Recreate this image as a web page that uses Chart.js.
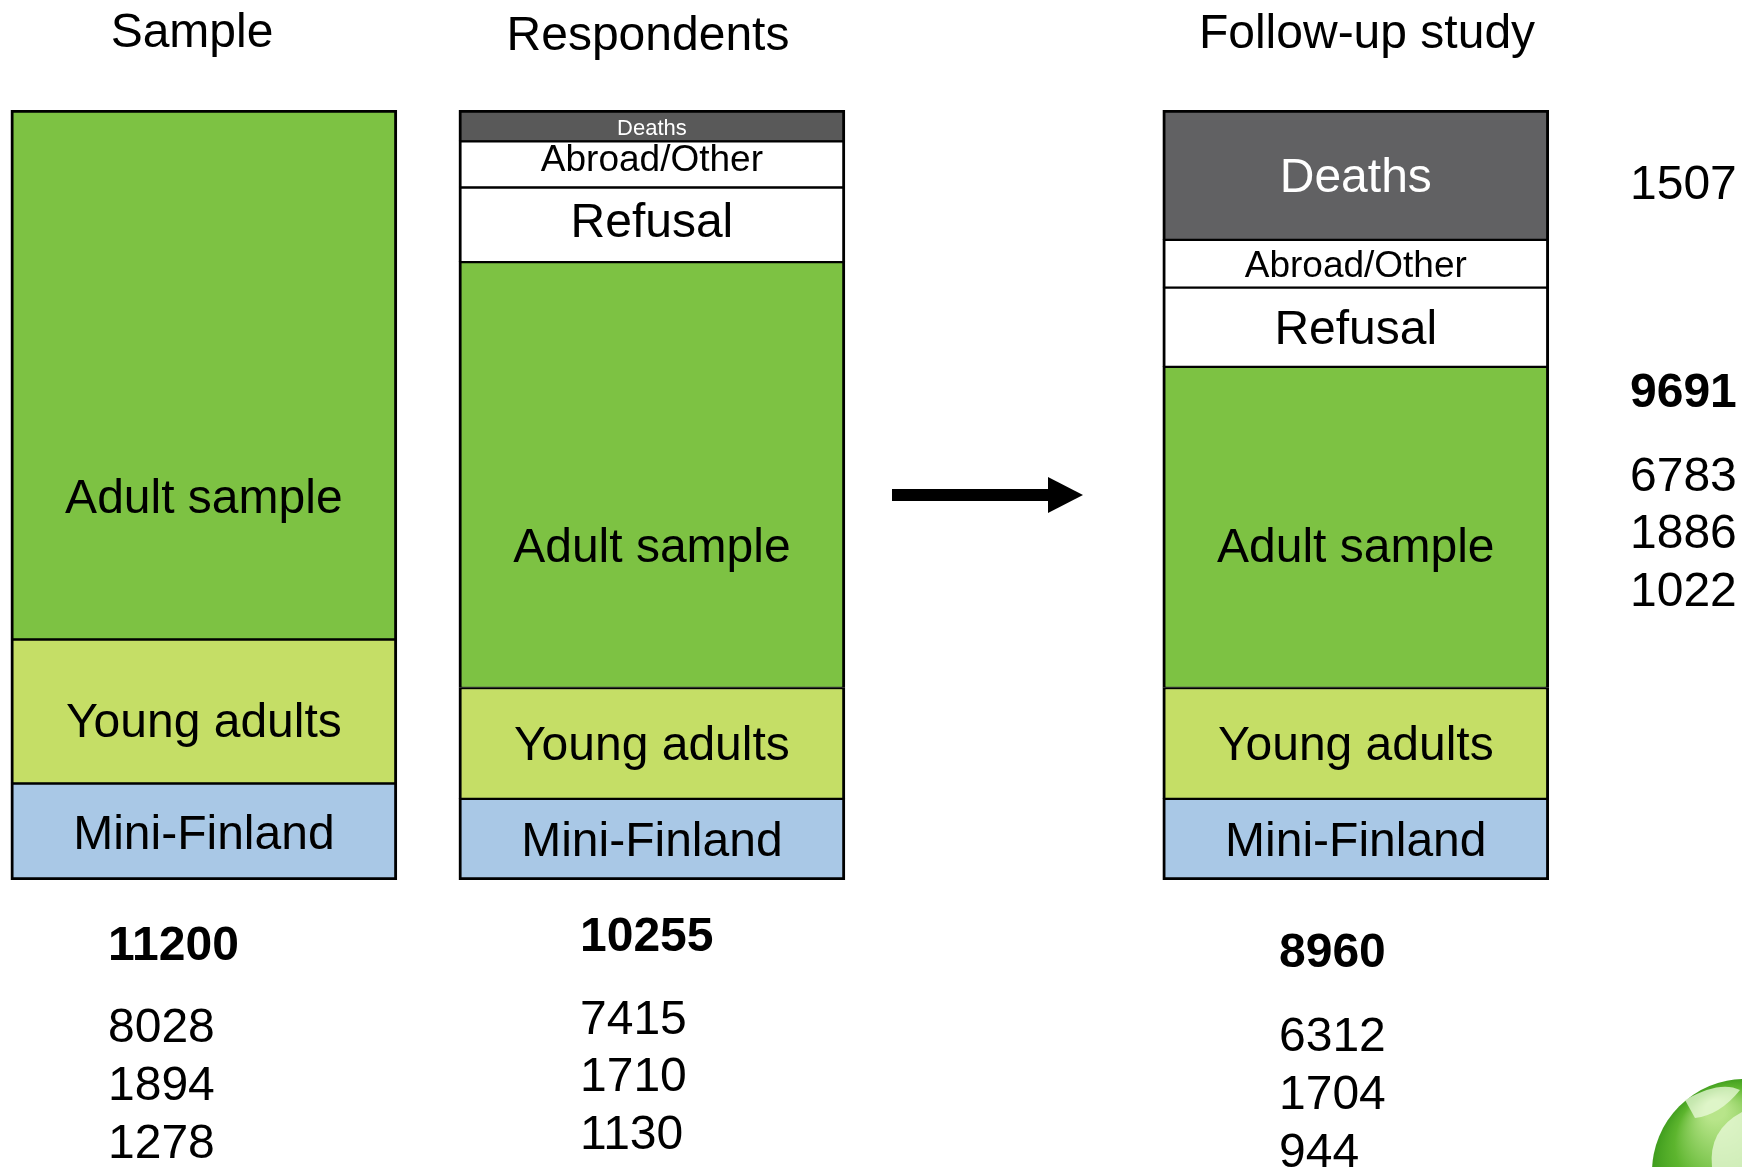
<!DOCTYPE html>
<html>
<head>
<meta charset="utf-8">
<title>Sample, respondents and follow-up study</title>
<script src="https://cdn.jsdelivr.net/npm/chart.js@4.4.1/dist/chart.umd.min.js"></script>
<style>
  html, body { margin: 0; padding: 0; background: #fff; }
  #chart { display: block; }
</style>
</head>
<body>
<canvas id="chart" width="1742" height="1167"></canvas>
<script>
const categories = ['Sample', 'Respondents', 'Follow-up study'];
const segments = ['Mini-Finland', 'Young adults', 'Adult sample', 'Refusal', 'Abroad/Other', 'Deaths'];

// share of each bar's height (%), bottom to top, as drawn in the picture
const miniFinland = [12.6, 10.6, 10.6];
const youngAdults = [18.7, 14.4, 14.4];
const adultSample = [68.7, 55.3, 41.7];
const refusal = [null, 9.7, 10.3];
const abroadOther = [null, 6.0, 6.2];
const deaths = [null, 4.0, 16.8];

// numbers under the bars: total, adult, young adults, mini-finland
const sampleCounts = [11200, 8028, 1894, 1278];
const respondentCounts = [10255, 7415, 1710, 1130];
const followUpCounts = [8960, 6312, 1704, 944];
// column at the right: deaths, total, adult, young adults, mini-finland
const sideCounts = [1507, 9691, 6783, 1886, 1022];

const seriesValues = [miniFinland, youngAdults, adultSample, refusal, abroadOther, deaths];
const fills = ['#a9c8e6', '#c5de66', '#7dc243', '#ffffff', '#ffffff', ['#595959', '#595959', '#616163']];

// where the bars sit on the (hidden) x axis - the arrow needs the extra room
const barX = [0, 1, 2.571];
const FONT = '"Liberation Sans", Arial, sans-serif';
const TY = 4; // canvas 'middle' sits a bit high for this font

function isTopSegment(ds, i) {
    for (let k = ds + 1; k < seriesValues.length; k++) {
        if (seriesValues[k][i] != null) return false;
    }
    return true;
}

const datasets = seriesValues.map(function (vals, ds) {
    return {
        label: segments[ds],
        data: vals.map(function (v, i) { return { x: barX[i], y: v }; }),
        backgroundColor: fills[ds],
        borderColor: '#000000',
        borderSkipped: false,
        borderWidth: function (c) {
            return {
                left: 3,
                right: 3,
                top: isTopSegment(c.datasetIndex, c.dataIndex) ? 3 : 2,
                bottom: c.datasetIndex === 0 ? 3 : 1
            };
        },
        barThickness: 386
    };
});

// font size per segment label, per bar
const labelSize = {
    'Deaths': [0, 22, 48],
    'Abroad/Other': [0, 37, 37]
};

const segmentLabels = {
    id: 'segmentLabels',
    afterDatasetsDraw(chart) {
        const ctx = chart.ctx;
        ctx.save();
        ctx.textAlign = 'center';
        ctx.textBaseline = 'middle';
        chart.data.datasets.forEach(function (ds, d) {
            const meta = chart.getDatasetMeta(d);
            meta.data.forEach(function (bar, i) {
                if (seriesValues[d][i] == null) return;
                const size = labelSize[ds.label] ? labelSize[ds.label][i] : 48;
                let y = (bar.y + bar.base) / 2 + TY;
                if (ds.label === 'Adult sample') y = bar.base - 143 + TY;
                if (ds.label === 'Young adults' && i === 0) y += 9;
                if (ds.label === 'Abroad/Other' && i === 1) y -= 7;
                if (ds.label === 'Refusal' && i === 1) y -= 5;
                ctx.font = size + 'px ' + FONT;
                ctx.fillStyle = ds.label === 'Deaths' ? '#ffffff' : '#000000';
                ctx.fillText(ds.label, bar.x, y);
            });
        });
        ctx.restore();
    }
};

function drawCounts(ctx, list, x, ys) {
    list.forEach(function (n, k) {
        ctx.font = (k === 0 ? 'bold ' : '') + '48px ' + FONT;
        ctx.fillText(String(n), x, ys[k] + TY);
    });
}

const slideText = {
    id: 'slideText',
    afterDraw(chart) {
        const ctx = chart.ctx;
        ctx.save();
        ctx.fillStyle = '#000000';
        ctx.textBaseline = 'middle';

        // titles above the bars
        ctx.textAlign = 'center';
        ctx.font = '48px ' + FONT;
        ctx.fillText(categories[0], 192, 30 + TY);
        ctx.fillText(categories[1], 648, 33 + TY);
        ctx.fillText(categories[2], 1367, 31 + TY);

        ctx.textAlign = 'left';
        drawCounts(ctx, sampleCounts, 108, [943, 1025, 1083, 1141]);
        drawCounts(ctx, respondentCounts, 580, [934, 1017, 1074, 1132]);
        drawCounts(ctx, followUpCounts, 1279, [950, 1034, 1092, 1150]);

        const sideY = [182, 390, 474, 531, 589];
        sideCounts.forEach(function (n, k) {
            ctx.font = (k === 1 ? 'bold ' : '') + '48px ' + FONT;
            ctx.fillText(String(n), 1630, sideY[k] + TY);
        });

        // arrow between respondents and follow-up
        ctx.fillRect(892, 489, 157, 12);
        ctx.beginPath();
        ctx.moveTo(1048, 477);
        ctx.lineTo(1083, 495);
        ctx.lineTo(1048, 513);
        ctx.closePath();
        ctx.fill();

        // green ball in the corner
        const g = ctx.createRadialGradient(1715, 1110, 10, 1745, 1172, 95);
        g.addColorStop(0, '#b8e58a');
        g.addColorStop(0.55, '#5db52e');
        g.addColorStop(1, '#3c9a1c');
        ctx.fillStyle = g;
        ctx.beginPath();
        ctx.arc(1745, 1172, 93, 0, Math.PI * 2);
        ctx.fill();
        ctx.fillStyle = 'rgba(235, 250, 220, 0.75)';
        ctx.beginPath();
        ctx.moveTo(1685, 1100);
        ctx.quadraticCurveTo(1720, 1080, 1740, 1090);
        ctx.quadraticCurveTo(1720, 1115, 1695, 1118);
        ctx.closePath();
        ctx.fill();
        ctx.beginPath();
        ctx.moveTo(1712, 1167);
        ctx.quadraticCurveTo(1708, 1130, 1742, 1112);
        ctx.lineTo(1742, 1167);
        ctx.closePath();
        ctx.fill();
        ctx.restore();
    }
};

const chart = new Chart(document.getElementById('chart'), {
    type: 'bar',
    data: { datasets: datasets },
    options: {
        responsive: false,
        animation: false,
        devicePixelRatio: 1,
        layout: { padding: { top: 110, bottom: 287, left: 0, right: 0 } },
        plugins: {
            legend: { display: false },
            tooltip: { enabled: false },
            title: { display: false }
        },
        scales: {
            x: { type: 'linear', min: -0.455, max: 3.433, offset: false, stacked: true, display: false },
            y: { min: 0, max: 100, stacked: true, display: false }
        }
    },
    plugins: [segmentLabels, slideText]
});
</script>
</body>
</html>
